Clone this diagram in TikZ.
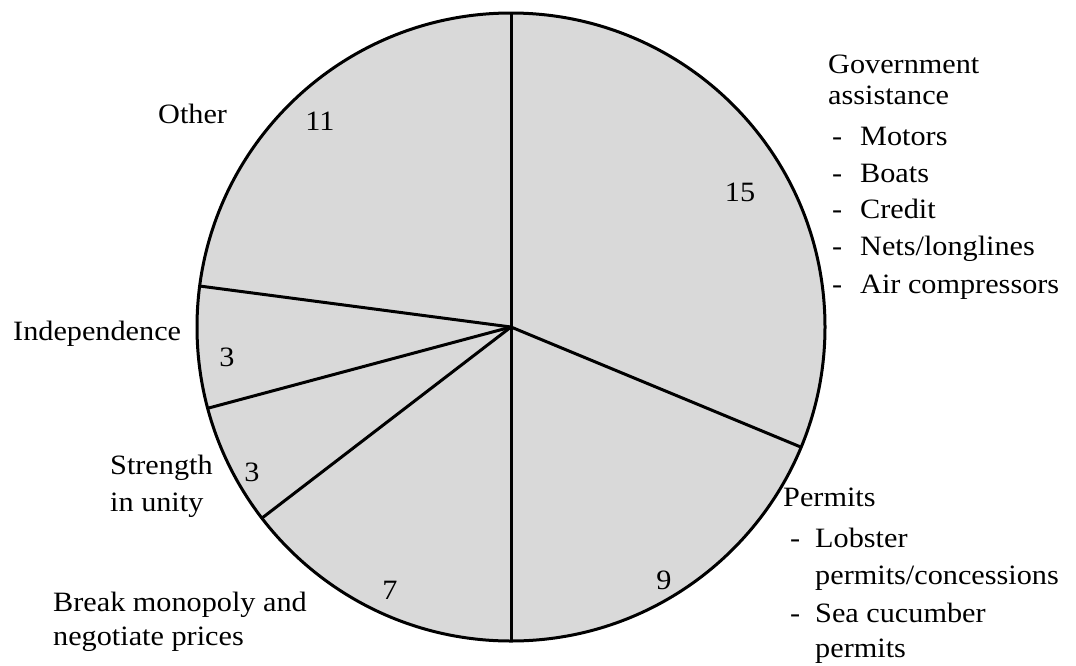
\documentclass[tikz,border=0pt]{standalone}
\usepackage{fontspec}
\setmainfont[FakeStretch=1.08]{Liberation Serif}
\definecolor{piefill}{RGB}{217,217,217}
\begin{document}
\begin{tikzpicture}[x=1pt,y=-1pt,
  lbl/.style={anchor=west,inner sep=0pt,text height=18pt,text depth=6pt,font=\fontsize{28}{31}\selectfont},
  num/.style={inner sep=0pt,font=\fontsize{28}{31}\selectfont},
  edge/.style={line width=3pt}]
\useasboundingbox (0,0) rectangle (1076,665);
\coordinate (c) at (511,327);
\fill[piefill] (c) circle[radius=314];
\path (c) ++(-90:314) coordinate (p0)
      (c) ++(22.5:314) coordinate (p1)
      (c) ++(90:314) coordinate (p2)
      (c) ++(142.5:314) coordinate (p3)
      (c) ++(165:314) coordinate (p4)
      (c) ++(-172.5:314) coordinate (p5);
\foreach \p in {p0,p1,p2,p3,p4,p5} \draw[edge] (c) -- (\p);
\draw[edge] (c) circle[radius=314];
% numbers
\node[num] (n11) at (320,121) {11};
\node[num] (n15) at (740,192) {15};
\node[num] (n3a) at (227,357) {3};
\node[num] (n3b) at (252,472) {3};
\node[num] (n7) at (390,590) {7};
\node[num] (n9) at (664,580) {9};
% labels
\node[lbl] (other) at (158,117) {Other};
\node[lbl] (gov1) at (828,67) {Government};
\node[lbl] (gov2) at (828,98) {assistance};
\node[lbl] (gov3) at (832,139) {\makebox[28pt][l]{-}Motors};
\node[lbl] (gov4) at (832,176) {\makebox[28pt][l]{-}Boats};
\node[lbl] (gov5) at (832,212) {\makebox[28pt][l]{-}Credit};
\node[lbl] (gov6) at (832,249) {\makebox[28pt][l]{-}Nets/longlines};
\node[lbl] (gov7) at (832,287) {\makebox[28pt][l]{-}Air compressors};
\node[lbl] (indep) at (13,334) {Independence};
\node[lbl] (str1) at (110,468) {Strength};
\node[lbl] (str2) at (110,505) {in unity};
\node[lbl] (brk1) at (53,605) {Break monopoly and};
\node[lbl] (brk2) at (53,639) {negotiate prices};
\node[lbl] (perm1) at (783,500) {Permits};
\node[lbl] (perm2) at (790,541) {\makebox[25pt][l]{-}Lobster};
\node[lbl] (perm3) at (815,578) {permits/concessions};
\node[lbl] (perm4) at (790,616) {\makebox[25pt][l]{-}Sea cucumber};
\node[lbl] (perm5) at (815,651) {permits};
\end{tikzpicture}
\end{document}
